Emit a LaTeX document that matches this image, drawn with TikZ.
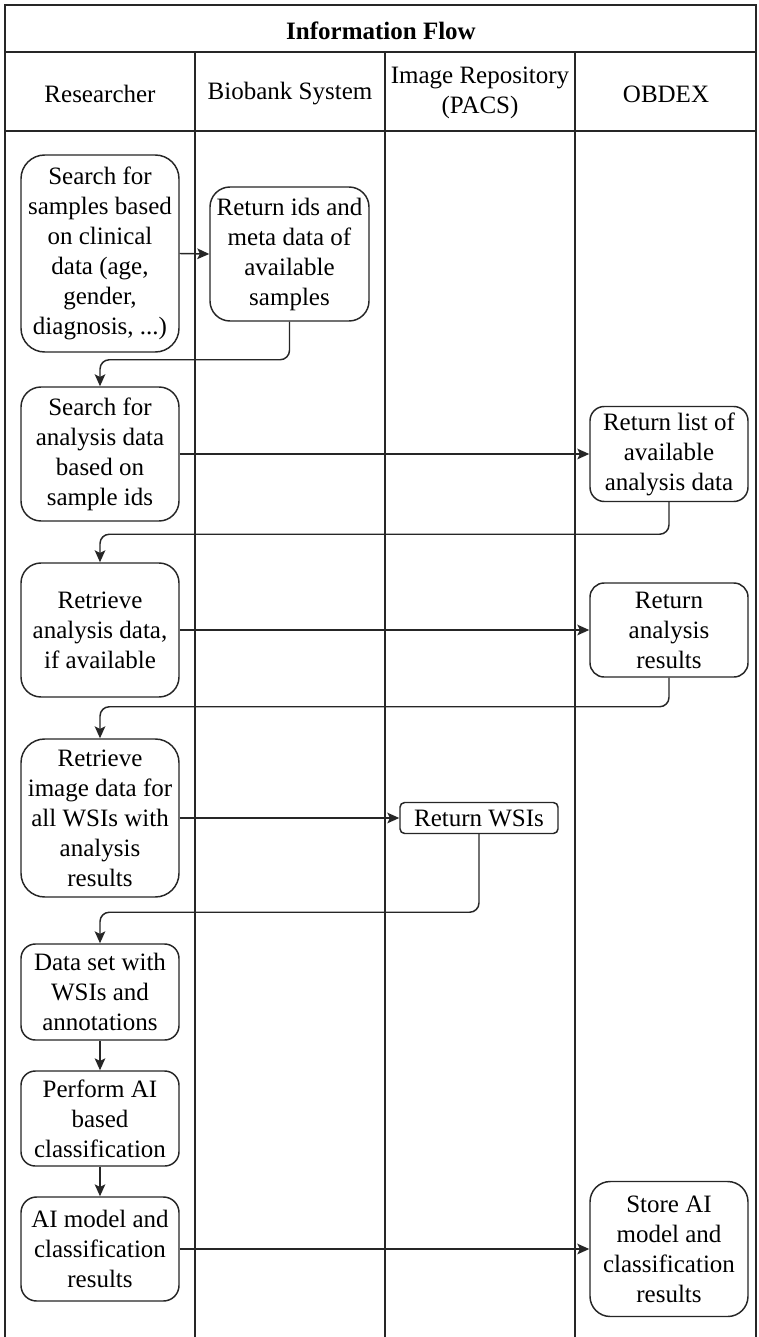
\documentclass[tikz,border=0pt]{standalone}
\usepackage{fontspec}
\setmainfont{Liberation Serif}
\usetikzlibrary{arrows.meta}
\begin{document}
\begin{tikzpicture}[x=0.75pt,y=-0.75pt,
  font=\fontsize{18.75}{22.5}\selectfont,
  frameline/.style={line width=1.1pt, draw=black!85},
  box/.style={draw=black!85, line width=1.1pt, align=center, inner sep=0pt, fill=white},
  flow/.style={line width=1.1pt, draw=black!85, -{Stealth[length=9pt,width=8pt,inset=2pt]}},
  elbow/.style={flow, rounded corners=7pt}
]
\useasboundingbox (0,0) rectangle (758,1337);
% frame and lanes
\draw[frameline] (5,1337) -- (5,5) -- (756,5) -- (756,1337);
\draw[frameline] (5,52) -- (756,52);
\draw[frameline] (5,131) -- (756,131);
\foreach \xx in {195,385,575} \draw[frameline] (\xx,52) -- (\xx,1337);
% titles
\node[font=\fontsize{18.75}{22.5}\selectfont\bfseries] (title) at (381,31) {Information Flow};
\node (h1) at (100,94) {Researcher};
\node (h2) at (290,94) {Biobank System};
\node[align=center] (h3) at (480,93) {Image Repository\\(PACS)};
\node (h4) at (666,94) {OBDEX};
% boxes
\node[box, minimum width=118.5pt, minimum height=147.75pt, rounded corners=17.8pt] (b1) at (100,253.5)
  {Search for\\samples based\\on clinical\\data (age,\\gender,\\diagnosis, ...)};
\node[box, minimum width=119.25pt, minimum height=100.5pt, rounded corners=15pt] (b2) at (289.5,254)
  {Return ids and\\meta data of\\available\\samples};
\node[box, minimum width=118.5pt, minimum height=100.5pt, rounded corners=15pt] (b3) at (100,454)
  {Search for\\analysis data\\based on\\sample ids};
\node[box, minimum width=118.5pt, minimum height=71.25pt, rounded corners=10.7pt] (b4) at (669,454)
  {Return list of\\available\\analysis data};
\node[box, minimum width=118.5pt, minimum height=100.5pt, rounded corners=15pt] (b5) at (100,630)
  {Retrieve\\analysis data,\\if available};
\node[box, minimum width=118.5pt, minimum height=70.5pt, rounded corners=10.6pt] (b6) at (669,630)
  {Return\\analysis\\results};
\node[box, minimum width=118.5pt, minimum height=118.5pt, rounded corners=17.8pt] (b7) at (100,818)
  {Retrieve\\image data for\\all WSIs with\\analysis\\results};
\node[box, minimum width=118.5pt, minimum height=23.25pt, rounded corners=3.5pt] (b8) at (479,818)
  {Return WSIs};
\node[box, minimum width=118.5pt, minimum height=72pt, rounded corners=10.8pt] (b9) at (100,992)
  {Data set with\\WSIs and\\annotations};
\node[box, minimum width=118.5pt, minimum height=71.25pt, rounded corners=10.7pt] (b10) at (100,1118.5)
  {Perform AI\\based\\classification};
\node[box, minimum width=118.5pt, minimum height=78pt, rounded corners=11.7pt] (b11) at (100,1249)
  {AI model and\\classification\\results};
\node[box, minimum width=118.5pt, minimum height=101.25pt, rounded corners=15.2pt] (b12) at (669,1249)
  {Store AI\\model and\\classification\\results};
% connectors
\draw[flow] (b1.east) -- (b2.west);
\draw[elbow] (b2.south) -- ++(0,38) -| (b3.north);
\draw[flow] (b3.east) -- (b4.west);
\draw[elbow] (b4.south) -- ++(0,32) -| (b5.north);
\draw[flow] (b5.east) -- (b6.west);
\draw[elbow] (b6.south) -- ++(0,29) -| (b7.north);
\draw[flow] (b7.east) -- (b8.west);
\draw[elbow] (b8.south) -- ++(0,78) -| (b9.north);
\draw[flow] (b9.south) -- (b10.north);
\draw[flow] (b10.south) -- (b11.north);
\draw[flow] (b11.east) -- (b12.west);
\end{tikzpicture}
\end{document}
